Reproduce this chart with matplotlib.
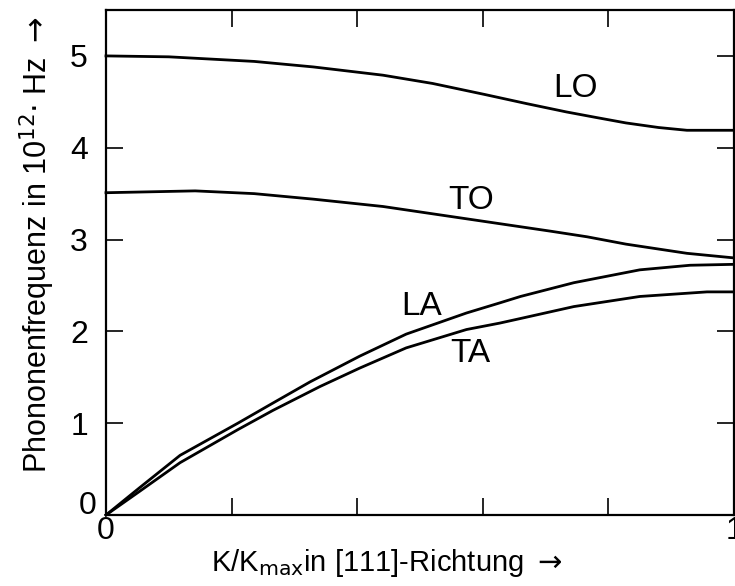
import numpy as np
import matplotlib
matplotlib.use("Agg")
import matplotlib.pyplot as plt

plt.rcParams['font.family'] = ['Liberation Sans', 'DejaVu Sans']

### --- dispersion branches along [111], K/Kmax vs frequency (10^12 Hz)
k_LO = [0.0, 0.1, 0.236, 0.33, 0.441, 0.52, 0.603, 0.67, 0.733, 0.78, 0.828, 0.88, 0.925, 1.0]
f_LO = [5.0, 4.99, 4.94, 4.88, 4.79, 4.70, 4.58, 4.48, 4.39, 4.33, 4.27, 4.22, 4.19, 4.19]

k_TO = [0.0, 0.142, 0.236, 0.33, 0.441, 0.57, 0.709, 0.766, 0.828, 0.925, 1.0]
f_TO = [3.51, 3.53, 3.50, 3.44, 3.36, 3.23, 3.09, 3.03, 2.95, 2.85, 2.80]

k_LA = [0.0, 0.054, 0.118, 0.21, 0.266, 0.325, 0.404, 0.478, 0.574, 0.627, 0.66, 0.745, 0.85, 0.93, 1.0]
f_LA = [0.0, 0.30, 0.65, 1.00, 1.22, 1.45, 1.73, 1.97, 2.20, 2.31, 2.38, 2.53, 2.67, 2.72, 2.73]

k_TA = [0.0, 0.054, 0.118, 0.21, 0.266, 0.341, 0.404, 0.478, 0.574, 0.627, 0.66, 0.745, 0.85, 0.957, 1.0]
f_TA = [0.0, 0.26, 0.57, 0.93, 1.14, 1.40, 1.60, 1.82, 2.02, 2.09, 2.14, 2.27, 2.38, 2.43, 2.43]

branch_names = ['LO', 'TO', 'LA', 'TA']
label_pos = [(0.747, 4.64), (0.581, 3.42), (0.502, 2.27), (0.58, 1.76)]

fig = plt.figure(figsize=(7.35, 5.86), dpi=100)
ax = fig.add_axes([106/735, 71/586, 628/735, 505/586])

for k, f in [(k_LO, f_LO), (k_TO, f_TO), (k_LA, f_LA), (k_TA, f_TA)]:
	ax.plot(k, f, color='black', lw=2.0, solid_joinstyle='round', clip_on=False)

for name, (xp, yp) in zip(branch_names, label_pos):
	ax.text(xp, yp, name, fontsize=24, ha='center', va='center')

ax.set_xlim(0, 1)
ax.set_ylim(0, 5.5)

for s in ax.spines.values():
	s.set_linewidth(1.6)

ax.set_xticks([0, 0.2, 0.4, 0.6, 0.8, 1.0])
ax.set_xticklabels(['0', '', '', '', '', '1'])
ax.set_yticks([0, 1, 2, 3, 4, 5])
ax.set_yticklabels(['', '1', '2', '3', '4', '5'])
ax.tick_params(direction='in', length=12, width=1.2, top=True, right=True,
	labelsize=23)
ax.tick_params(axis='y', pad=13)
ax.tick_params(axis='x', pad=1)

# the y-axis zero sits just left of the corner
fig.text(88/735, 1 - 506/586, '0', fontsize=23, ha='center', va='center')

fig.text(37/735, 1 - 245/586, r'Phononenfrequenz in 10$^{12}$$\cdot$ Hz $\rightarrow$',
	rotation=90, fontsize=22, ha='center', va='center')
fig.text(387/735, 1 - 563/586, r'K/K$_{\rm max}$in [111]-Richtung $\rightarrow$',
	fontsize=21, ha='center', va='center')

plt.savefig('out.png', dpi=100)
